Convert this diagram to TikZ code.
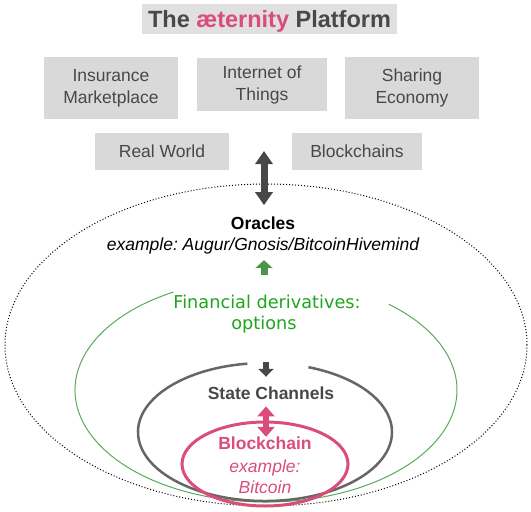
\documentclass[tikz,border=0pt]{standalone}
\usepackage{fontspec}
\setmainfont{Liberation Sans}
\newfontfamily\dejavu{DejaVu Sans}
\usepackage{tikz}
\usetikzlibrary{arrows.meta}
\definecolor{aepink}{RGB}{218,77,122}
\definecolor{boxgray}{RGB}{217,217,217}
\definecolor{titlegray}{RGB}{224,224,224}
\definecolor{textgray}{RGB}{72,72,72}
\definecolor{ringgray}{RGB}{102,102,102}
\definecolor{fingreen}{RGB}{30,165,30}
\definecolor{ringgreen}{RGB}{90,170,90}
\definecolor{arrowgreen}{RGB}{74,150,74}
\frenchspacing

\begin{document}
\begin{tikzpicture}[x=1pt, y=-1pt,
		box/.style={fill=boxgray, text=textgray, align=center, inner sep=0pt, font=\fontsize{17.5}{22}\selectfont},
		lbl/.style={anchor=base, font=\fontsize{17.5}{21}\selectfont},
		bigarrow/.style={draw=textgray, line width=7pt, {Triangle[width=17pt,length=13pt]}-{Triangle[width=17pt,length=13pt]}},
		greenarrow/.style={draw=arrowgreen, line width=7pt, -{Triangle[width=17pt,length=8pt]}},
		grayarrow/.style={draw=textgray, line width=6pt, -{Triangle[width=15pt,length=8pt]}},
		pinkarrow/.style={draw=aepink, line width=6pt, {Triangle[width=17pt,length=10pt]}-{Triangle[width=17pt,length=10pt]}}]
		\useasboundingbox (0,0) rectangle (531,512);
		\draw[dash pattern=on 1pt off 2pt, line width=1pt] (266,345) ellipse [x radius=261pt, y radius=161pt];
		\draw[ringgreen, line width=1pt] (266,390) ++(119:191pt and 112pt) arc[start angle=119, end angle=410, x radius=191pt, y radius=112pt];
		\draw[ringgray, line width=2.5pt] (265,432) ++(98:127pt and 69pt) arc[start angle=98, end angle=430, x radius=127pt, y radius=69pt];
		\draw[aepink, line width=3pt] (265,464) ellipse [x radius=83pt, y radius=42pt];
		\node[box, fill=titlegray, minimum width=255pt, minimum height=30pt, text depth=0pt, font=\fontsize{23.5}{28}\selectfont\bfseries] (title) at (269.5,19) {The \textcolor{aepink}{æternity} Platform};
		\node[box, minimum width=134pt, minimum height=62pt] (insurance) at (111,88) {Insurance\\Marketplace};
		\node[box, minimum width=130pt, minimum height=53pt] (iot) at (262,84.5) {Internet of\\Things};
		\node[box, minimum width=134pt, minimum height=62pt] (sharing) at (412,88) {Sharing\\Economy};
		\node[box, minimum width=134pt, minimum height=37pt] (realworld) at (162,151.5) {Real World};
		\node[box, minimum width=130pt, minimum height=37pt] (blockchains) at (357,151.5) {Blockchains};
		\node[lbl] (oracles) at (263,229) {\bfseries Oracles};
		\node[lbl] (orex) at (263,250) {\itshape example: Augur/Gnosis/BitcoinHivemind};
		\node[lbl, text=fingreen, font=\fontsize{17.7}{21}\dejavu] (fin) at (267,308) {Financial derivatives:};
		\node[lbl, text=fingreen, font=\fontsize{17.7}{21}\dejavu] (options) at (264,329) {options};
		\node[lbl, text=textgray] (state) at (271,399) {\bfseries State Channels};
		\node[lbl, text=aepink] (block) at (265,449) {\bfseries Blockchain};
		\node[lbl, text=aepink] (blockex) at (265,472) {\itshape example:};
		\node[lbl, text=aepink] (bitcoin) at (265,493) {\itshape Bitcoin};
		\coordinate (hub) at (264,151);
		\coordinate (sctop) at (266,362);
		\draw[bigarrow, shorten >=7.6pt] (hub) -- (hub |- oracles.north);
		\draw[greenarrow, shorten <=16.3pt, shorten >=3pt] (hub |- fin.north) -- (hub |- orex.south);
		\draw[grayarrow, shorten >=6pt] (sctop) -- (sctop |- state.north);
		\draw[pinkarrow, shorten <=3.7pt, shorten >=-4pt] (sctop |- state.south) -- (sctop |- block.north);
	\end{tikzpicture}
\end{document}
